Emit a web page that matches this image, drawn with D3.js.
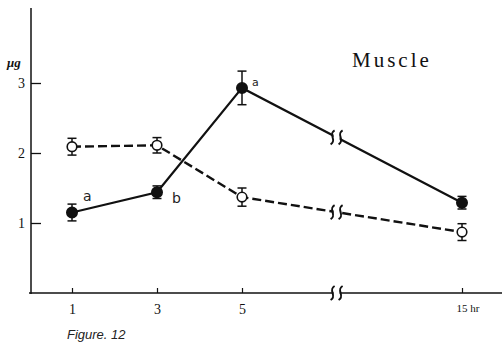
<!DOCTYPE html>
<html><head><meta charset="utf-8">
<script src="https://cdn.jsdelivr.net/npm/d3@7"></script>
<style>body{margin:0;background:#fff}svg{display:block}</style>
</head><body>
<svg id="c" width="502" height="344"></svg>
<script>
// ---- data ----
const hours = [1, 3, 5, 15];
const xTickLabels = ["1", "3", "5", "15 hr"];
const yTicks = [1, 2, 3];
const filledValues = [1.15, 1.44, 2.93, 1.29];
const filledErrors = [0.12, 0.09, 0.24, 0.09];
const filledNotes = ["a", "b", "a", ""];
const openValues = [2.09, 2.11, 1.37, 0.87];
const openErrors = [0.12, 0.11, 0.13, 0.12];
const breakHour = 9.3;
const title = "Muscle";
const yUnit = "μg";
const caption = "Figure. 12";

// ---- drawing ----
const svg = d3.select("#c");
const x = d3.scaleLinear().domain([1, 3, 5, 15]).range([72, 157, 242, 462]);
const y = d3.scaleLinear().domain([0, 3]).range([293, 83]);
const serif = "'Liberation Serif','DejaVu Serif',serif";

// y axis
const ya = svg.append("g").attr("transform", "translate(31,0)")
  .call(d3.axisLeft(y).tickValues(yTicks).tickSize(-10).tickPadding(6).tickFormat(d3.format("d")));
ya.select(".domain").remove();
ya.selectAll("line").attr("stroke", "#111").attr("stroke-width", 1.3);
ya.selectAll("text").attr("font-family", serif).attr("font-size", 14).attr("fill", "#111");
svg.append("line").attr("x1", 31).attr("x2", 31).attr("y1", 8).attr("y2", y(0) + 1)
  .attr("stroke", "#111").attr("stroke-width", 1.5);

// x axis
const xa = svg.append("g").attr("transform", `translate(0,${y(0)})`)
  .call(d3.axisBottom(x).tickValues(hours).tickSize(-5).tickPadding(11)
    .tickFormat((d, i) => xTickLabels[i]));
xa.select(".domain").remove();
xa.selectAll("line").attr("stroke", "#111").attr("stroke-width", 1.2);
xa.selectAll("text").attr("font-family", serif).attr("font-size", 14).attr("fill", "#111");
xa.selectAll(".tick").filter(d => d === 15).select("text")
  .attr("font-size", 11).attr("text-anchor", "start").attr("x", -6);
svg.append("line").attr("x1", 29).attr("x2", 502).attr("y1", y(0)).attr("y2", y(0))
  .attr("stroke", "#111").attr("stroke-width", 1.5);

// lines
const line = d3.line().x((d, i) => x(hours[i])).y(d => y(d));
svg.append("path").datum(openValues).attr("d", line).attr("fill", "none")
  .attr("stroke", "#111").attr("stroke-width", 2.4).attr("stroke-dasharray", "9,4");
svg.append("path").datum(filledValues).attr("d", line).attr("fill", "none")
  .attr("stroke", "#111").attr("stroke-width", 2.2);

// breaks
const bx = x(breakHour);
function yAt(vals) {
  const t = (breakHour - 5) / 10;
  return y(vals[2] + (vals[3] - vals[2]) * t);
}
const breakYs = [yAt(filledValues), yAt(openValues), y(0)];
const sPath = cx => (cy) => `M${cx + 2},${cy - 7} C${cx - 5},${cy - 3} ${cx + 5},${cy + 3} ${cx - 2},${cy + 7}`;
breakYs.forEach(cy => {
  svg.append("rect").attr("x", bx - 3).attr("y", cy - 4).attr("width", 6).attr("height", 8).attr("fill", "#fff");
  [bx - 4, bx + 4].forEach(cx => {
    svg.append("path").attr("d", sPath(cx)(cy)).attr("fill", "none")
      .attr("stroke", "#111").attr("stroke-width", 2);
  });
});

// error bars + markers
function series(vals, errs, filled) {
  const g = svg.append("g");
  vals.forEach((v, i) => {
    const cx = x(hours[i]);
    const y1 = y(v + errs[i]), y2 = y(v - errs[i]);
    g.append("line").attr("x1", cx).attr("x2", cx).attr("y1", y1).attr("y2", y2)
      .attr("stroke", "#111").attr("stroke-width", 1.5);
    [y1, y2].forEach(yy => g.append("line").attr("x1", cx - 4.5).attr("x2", cx + 4.5)
      .attr("y1", yy).attr("y2", yy).attr("stroke", "#111").attr("stroke-width", 1.5));
    g.append("circle").attr("cx", cx).attr("cy", y(v)).attr("r", filled ? 5.2 : 4.8)
      .attr("fill", filled ? "#111" : "#fff").attr("stroke", "#111").attr("stroke-width", 1.6);
  });
}
series(openValues, openErrors, false);
series(filledValues, filledErrors, true);

// annotations
const noteOffsets = [[11, -12, 14], [15, 11, 14], [10, -2, 11]];
filledNotes.forEach((t, i) => {
  if (!t) return;
  const o = noteOffsets[i];
  svg.append("text").attr("x", x(hours[i]) + o[0]).attr("y", y(filledValues[i]) + o[1])
    .attr("font-family", "'DejaVu Sans',sans-serif").attr("font-size", o[2]).attr("fill", "#222").text(t);
});

// texts
svg.append("text").attr("x", 352).attr("y", 67).attr("font-family", serif)
  .attr("font-size", 21).attr("letter-spacing", 3).attr("fill", "#111").text(title);
svg.append("text").attr("x", 7).attr("y", 67).attr("font-family", serif)
  .attr("font-size", 13).attr("font-style", "italic").attr("font-weight", "bold").attr("fill", "#111").text(yUnit);
svg.append("text").attr("x", 67).attr("y", 339).attr("font-family", "'Liberation Sans',Arial,sans-serif")
  .attr("font-size", 13).attr("font-style", "italic").attr("fill", "#222").text(caption);
</script>
</body></html>
